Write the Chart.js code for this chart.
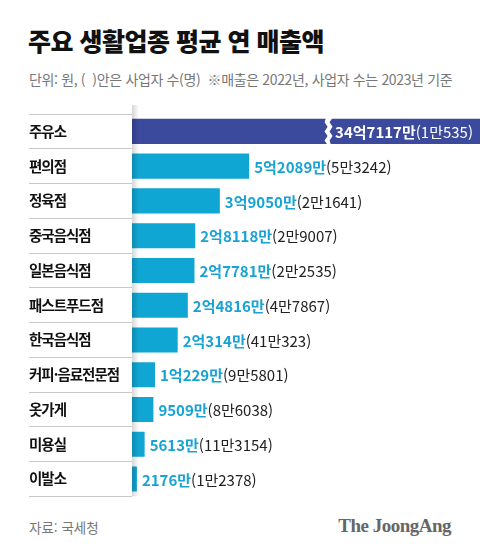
<!DOCTYPE html>
<html lang="ko">
<head>
<meta charset="utf-8">
<script src="https://cdn.jsdelivr.net/npm/chart.js@4.4.1/dist/chart.umd.min.js"></script>
<style>
  html, body { margin: 0; padding: 0; background: #fff; }
  body { width: 480px; height: 555px; position: relative; overflow: hidden;
         font-family: 'Noto Sans CJK KR', 'Noto Sans', sans-serif; }
  .title { position: absolute; left: 28px; top: 22px; font-size: 25px; font-weight: 900;
           color: #111; letter-spacing: -0.5px; }
  .sub { position: absolute; left: 29px; top: 69px; font-size: 14px; color: #777;
         letter-spacing: -0.35px; white-space: pre; }
  .source { position: absolute; left: 29px; top: 517px; font-size: 13.5px; color: #777; }
  .brand { position: absolute; right: 29px; top: 515px; font-size: 19px; font-weight: bold;
           color: #666; font-family: 'Liberation Serif', 'DejaVu Serif', serif; letter-spacing: -0.5px; }
  #chart { position: absolute; left: 0; top: 105px; }
</style>
</head>
<body>
<div class="title">주요 생활업종 평균 연 매출액</div>
<div class="sub">단위: 원, (  )안은 사업자 수(명)  ※매출은 2022년, 사업자 수는 2023년 기준</div>
<canvas id="chart" width="480" height="400"></canvas>
<div class="source">자료: 국세청</div>
<div class="brand">The JoongAng</div>

<script>
// 업종
const categories = ['주유소', '편의점', '정육점', '중국음식점', '일본음식점', '패스트푸드점',
  '한국음식점', '커피·음료전문점', '옷가게', '미용실', '이발소'];
// 평균 연 매출 (만원)
const revenue = [347117, 52089, 39050, 28118, 27781, 24816, 20314, 10229, 9509, 5613, 2176];
// 사업자 수 (명)
const businesses = [10535, 53242, 21641, 29007, 22535, 47867, 410323, 95801, 86038, 113154, 12378];

// 축 최대값 (주유소 막대는 잘라서 표시)
const AXIS_MAX = 154700;

const DARK = '#3b4a9d';
const CYAN = '#0fa6d3';
const FONT = "'Noto Sans CJK KR', 'Noto Sans', sans-serif";

function formatWon(v) {
  const eok = Math.floor(v / 10000);
  const man = v % 10000;
  return eok > 0 ? `${eok}억${man}만` : `${man}만`;
}

function formatCount(c) {
  const man = Math.floor(c / 10000);
  const rest = c % 10000;
  return man > 0 ? `${man}만${rest}` : `${rest}`;
}

// 업종 이름은 자간을 좁혀서
const tightText = {
  id: 'tightText',
  beforeDraw(chart) { chart.ctx.letterSpacing = '-1px'; }
};

// 막대 끝에 값 라벨, 잘린 막대에는 물결 표시
const valueLabels = {
  id: 'valueLabels',
  afterDatasetsDraw(chart) {
    const { ctx, chartArea } = chart;
    const meta = chart.getDatasetMeta(0);

    // 라벨 열 그림자
    const g = ctx.createLinearGradient(chartArea.left, 0, chartArea.left + 7, 0);
    g.addColorStop(0, 'rgba(0,0,0,0.16)');
    g.addColorStop(1, 'rgba(0,0,0,0)');
    ctx.save();
    ctx.fillStyle = g;
    ctx.fillRect(chartArea.left, chartArea.top - 9, 7, chartArea.bottom - chartArea.top + 9);
    ctx.restore();

    meta.data.forEach((bar, i) => {
      const main = formatWon(revenue[i]);
      const sub = `(${formatCount(businesses[i])})`;
      ctx.save();
      ctx.letterSpacing = '0px';
      ctx.textBaseline = 'middle';
      ctx.font = `bold 15px ${FONT}`;
      const w1 = ctx.measureText(main).width;
      ctx.font = `15px ${FONT}`;
      const w2 = ctx.measureText(sub).width;
      const clipped = bar.x > chartArea.right;
      let x = clipped ? chartArea.right - 7 - w1 - w2 : bar.x + 5;
      const y = bar.y + 1;

      if (clipped) {
        // 물결 모양 끊김 표시
        const bx = x - 9;
        const top = bar.y - bar.height / 2 - 1;
        const bot = bar.y + bar.height / 2 + 1;
        const steps = 6;
        const h = (bot - top) / steps;
        ctx.beginPath();
        ctx.moveTo(bx, top);
        for (let k = 1; k <= steps; k++) ctx.lineTo(bx + (k % 2 ? -1.5 : 1.5), top + h * k);
        ctx.lineTo(bx + 5, bot);
        for (let k = steps - 1; k >= 0; k--) ctx.lineTo(bx + 5 + (k % 2 ? -1.5 : 1.5), top + h * k);
        ctx.closePath();
        ctx.fillStyle = '#fff';
        ctx.fill();
      }

      ctx.textAlign = 'left';
      ctx.font = `bold 15px ${FONT}`;
      ctx.fillStyle = clipped ? '#fff' : '#19a3d5';
      ctx.fillText(main, x, y);
      ctx.font = `15px ${FONT}`;
      ctx.fillStyle = clipped ? '#fff' : '#222';
      ctx.fillText(sub, x + w1, y);
      ctx.restore();
    });
  }
};

new Chart(document.getElementById('chart'), {
  type: 'bar',
  data: {
    labels: categories,
    datasets: [{
      data: revenue,
      backgroundColor: revenue.map((v, i) => i === 0 ? DARK : CYAN),
      borderWidth: 0,
      barPercentage: 0.72,
      categoryPercentage: 1,
      clip: 0
    }]
  },
  options: {
    indexAxis: 'y',
    responsive: false,
    animation: false,
    layout: { padding: { left: 29, right: 0, top: 9, bottom: 6 } },
    plugins: { legend: { display: false }, tooltip: { enabled: false } },
    scales: {
      x: { display: false, min: 0, max: AXIS_MAX },
      y: {
        afterFit(scale) { scale.width = 103; },
        border: { display: false },
        grid: {
          offset: true,
          drawOnChartArea: false,
          drawTicks: true,
          tickLength: 103,
          color: '#c9c9c9',
          lineWidth: 1
        },
        ticks: {
          crossAlign: 'far',
          padding: 0,
          color: '#111',
          font: { family: FONT, size: 14.5, weight: '600' }
        }
      }
    }
  },
  plugins: [tightText, valueLabels]
});
</script>
</body>
</html>
